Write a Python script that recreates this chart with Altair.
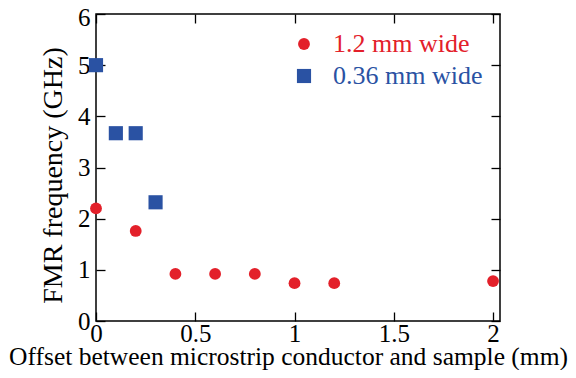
import altair as alt
import pandas as pd

# Data
x_red = [0.0, 0.2, 0.4, 0.6, 0.8, 1.0, 1.2, 2.0]
y_red = [2.20, 1.76, 0.92, 0.92, 0.92, 0.74, 0.74, 0.78]
x_blue = [0.0, 0.1, 0.2, 0.3]
y_blue = [5.00, 3.67, 3.67, 2.32]
series = ["1.2 mm wide", "0.36 mm wide"]
colors = ["#e3202a", "#2a52a3"]
shapes = ["circle", "square"]
sizes = [140, 200]
x_ticks = [0, 0.5, 1, 1.5, 2]
y_ticks = [0, 1, 2, 3, 4, 5, 6]

rows = [{"x": a, "y": b, "s": series[0]} for a, b in zip(x_red, y_red)]
rows += [{"x": a, "y": b, "s": series[1]} for a, b in zip(x_blue, y_blue)]
df = pd.DataFrame(rows)

W, H = 404, 307
FONT = "Liberation Serif"
xscale = alt.Scale(domain=[0, 2.035], nice=False, zero=False)
yscale = alt.Scale(domain=[0, 6], nice=False, zero=False)

label_x = alt.Axis(values=x_ticks, format="~g", ticks=False, domain=False,
                   grid=False, labelFontSize=25, labelPadding=0,
                   labelFlush=False, labelOverlap=False, labelFont=FONT,
                   labelColor="black",
                   title="Offset between microstrip conductor and sample (mm)",
                   titleFont=FONT, titleFontSize=25.5, titleFontWeight="normal",
                   titleColor="black", titleX=192, titleY=43,
                   titleAlign="center", titleBaseline="alphabetic")
label_y = alt.Axis(values=y_ticks, format="~g", ticks=False, domain=False,
                   grid=False, labelFontSize=25, labelPadding=6,
                   labelOffset={"condition": {"test": "datum.value == 6", "value": 3},
                                "value": 0},
                   labelFont=FONT, labelColor="black", labelOverlap=False,
                   title="FMR frequency (GHz)", titleFont=FONT,
                   titleFontSize=28, titleFontWeight="normal",
                   titleColor="black", titleX=-35, titleY=161,
                   titleAngle=270, titleAlign="center",
                   titleBaseline="alphabetic")


def tick_axis(vals, orient, offset):
    return alt.Axis(values=vals, orient=orient, offset=offset, labels=False,
                    domain=False, grid=False, ticks=True, tickSize=9,
                    tickColor="black", tickWidth=1.3, title=None)


points = alt.Chart(df).mark_point(filled=True, opacity=1).encode(
    x=alt.X("x:Q", scale=xscale, axis=label_x),
    y=alt.Y("y:Q", scale=yscale, axis=label_y),
    color=alt.Color("s:N", scale=alt.Scale(domain=series, range=colors),
                    legend=alt.Legend(
                        title=None, orient="none", legendX=195, legendY=17,
                        labelFont=FONT, labelFontSize=26, labelOffset=16,
                        rowPadding=6, symbolStrokeWidth=0,
                        labelColor=alt.ExprRef(
                            "datum.label == '1.2 mm wide' ? '#e3202a' : '#2a52a3'"))),
    shape=alt.Shape("s:N", scale=alt.Scale(domain=series, range=shapes)),
    size=alt.Size("s:N", scale=alt.Scale(domain=series, range=sizes)),
)

ticks_near = alt.Chart(df).mark_point(opacity=0).encode(
    x=alt.X("x:Q", scale=xscale, axis=tick_axis(x_ticks, "top", -H)),
    y=alt.Y("y:Q", scale=yscale, axis=tick_axis(y_ticks, "right", -W)),
)
ticks_far = alt.Chart(df).mark_point(opacity=0).encode(
    x=alt.X("x:Q", scale=xscale, axis=tick_axis(x_ticks, "bottom", -H)),
    y=alt.Y("y:Q", scale=yscale, axis=tick_axis(y_ticks, "left", -W)),
)

chart = alt.layer(points, ticks_near, ticks_far).resolve_axis(
    x="independent", y="independent"
).properties(
    width=W, height=H, autosize="none",
    padding={"left": 88, "top": 6, "right": 68, "bottom": 49},
    background="white",
).configure_view(stroke="black", strokeWidth=1.5)

chart.save("out.html", embed_options={"renderer": "svg", "actions": False})
